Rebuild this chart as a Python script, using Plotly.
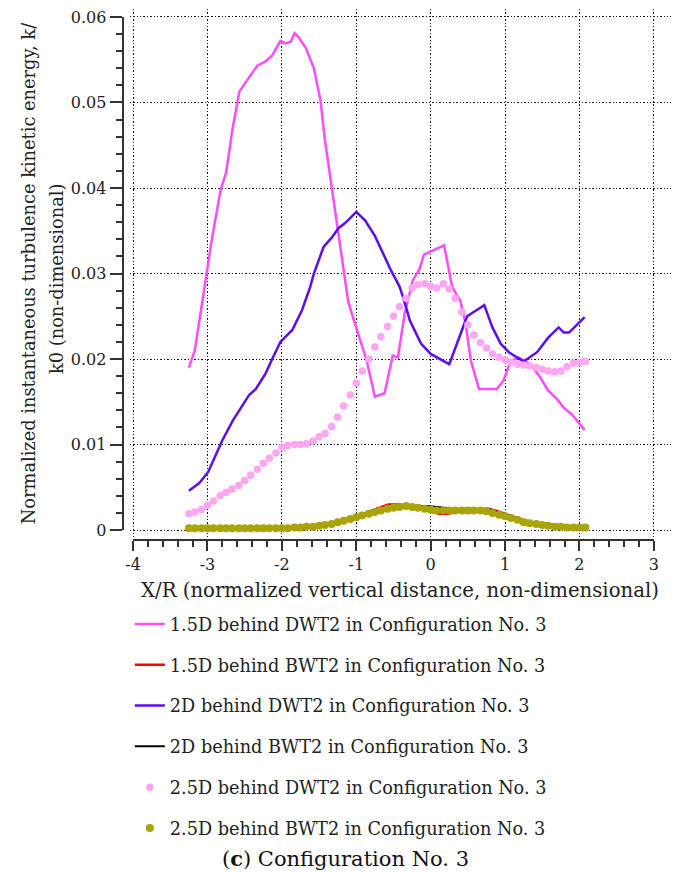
import plotly.graph_objects as go

# ---------------- data ----------------
# 1.5D behind DWT2 (solid magenta line)
x_15d_dwt2 = [-3.25, -3.17, -3.10, -3.02, -2.93, -2.82, -2.75, -2.66, -2.57, -2.46,
              -2.33, -2.22, -2.13, -2.02, -1.95, -1.88, -1.83, -1.77, -1.68, -1.57,
              -1.48, -1.42, -1.33, -1.26, -1.17, -1.11, -1.06, -0.97, -0.86, -0.75,
              -0.62, -0.51, -0.44, -0.35, -0.24, -0.15, -0.09, 0.18, 0.29, 0.40,
              0.47, 0.54, 0.65, 0.89, 0.98, 1.07, 1.18, 1.34, 1.47, 1.58,
              1.69, 1.80, 1.89, 2.07]
k_15d_dwt2 = [0.0190, 0.0210, 0.0250, 0.0298, 0.0346, 0.0399, 0.0418, 0.0471, 0.0513, 0.0527,
              0.0543, 0.0548, 0.0555, 0.0572, 0.0569, 0.0571, 0.0581, 0.0576, 0.0564, 0.0540,
              0.0502, 0.0455, 0.0401, 0.0354, 0.0300, 0.0268, 0.0253, 0.0229, 0.0198, 0.0156,
              0.0160, 0.0204, 0.0202, 0.0253, 0.0292, 0.0305, 0.0322, 0.0333, 0.0284, 0.0268,
              0.0241, 0.0198, 0.0165, 0.0165, 0.0175, 0.0197, 0.0202, 0.0194, 0.0179, 0.0163,
              0.0154, 0.0142, 0.0136, 0.0117]

# 1.5D behind BWT2 (solid red line)
x_15d_bwt2 = [-3.25, -2.50, -1.80, -1.60, -1.40, -1.20, -1.00, -0.85, -0.71, -0.57,
              -0.42, -0.26, -0.10, 0.02, 0.12, 0.23, 0.40, 0.60, 0.78, 0.90,
              1.03, 1.20, 1.38, 1.55, 1.70, 1.85, 2.07]
k_15d_bwt2 = [0.0002, 0.0002, 0.0002, 0.0004, 0.0007, 0.0010, 0.0016, 0.0021, 0.0026, 0.0030,
              0.0030, 0.0028, 0.0025, 0.0021, 0.0019, 0.0019, 0.0022, 0.0024, 0.0025, 0.0022,
              0.0018, 0.0013, 0.0009, 0.0007, 0.0006, 0.0004, 0.0003]

# 2D behind DWT2 (solid violet line)
x_2d_dwt2 = [-3.25, -3.11, -2.99, -2.88, -2.80, -2.66, -2.57, -2.44, -2.35, -2.22,
             -2.13, -2.02, -1.86, -1.73, -1.62, -1.57, -1.44, -1.33, -1.24, -1.15,
             -1.00, -0.88, -0.75, -0.62, -0.53, -0.42, -0.37, -0.28, -0.13, 0.00,
             0.18, 0.25, 0.40, 0.49, 0.63, 0.72, 0.83, 0.94, 1.05, 1.25,
             1.43, 1.58, 1.72, 1.79, 1.86, 2.07]
k_2d_dwt2 = [0.0046, 0.0055, 0.0068, 0.0089, 0.0105, 0.0128, 0.0140, 0.0158, 0.0165, 0.0183,
             0.0200, 0.0220, 0.0234, 0.0257, 0.0284, 0.0300, 0.0331, 0.0342, 0.0353, 0.0359,
             0.0372, 0.0362, 0.0344, 0.0320, 0.0303, 0.0285, 0.0272, 0.0245, 0.0218, 0.0206,
             0.0198, 0.0194, 0.0229, 0.0250, 0.0258, 0.0263, 0.0237, 0.0218, 0.0208, 0.0197,
             0.0208, 0.0225, 0.0237, 0.0231, 0.0231, 0.0249]

# 2D behind BWT2 (solid black line)
x_2d_bwt2 = [-3.25, -2.50, -1.80, -1.60, -1.40, -1.20, -0.97, -0.80, -0.57, -0.40,
             -0.31, -0.15, -0.04, 0.09, 0.30, 0.55, 0.76, 0.90, 1.03, 1.20,
             1.38, 1.55, 1.75, 2.07]
k_2d_bwt2 = [0.0002, 0.0002, 0.0002, 0.0004, 0.0006, 0.0009, 0.0015, 0.0019, 0.0026, 0.0028,
             0.0029, 0.0028, 0.0028, 0.0027, 0.0025, 0.0025, 0.0025, 0.0021, 0.0016, 0.0012,
             0.0009, 0.0006, 0.0004, 0.0003]

# 2.5D series (dotted markers), sampled on a common station list
x_25d = [-3.25, -3.17, -3.08, -3.00, -2.92, -2.83, -2.75, -2.67, -2.58, -2.50,
         -2.42, -2.33, -2.25, -2.17, -2.08, -2.00, -1.92, -1.83, -1.75, -1.67,
         -1.58, -1.50, -1.42, -1.33, -1.25, -1.17, -1.08, -1.00, -0.92, -0.83,
         -0.75, -0.67, -0.58, -0.50, -0.42, -0.33, -0.25, -0.17, -0.08, 0.00,
         0.08, 0.17, 0.25, 0.33, 0.42, 0.50, 0.58, 0.67, 0.75, 0.83,
         0.92, 1.00, 1.08, 1.17, 1.25, 1.33, 1.42, 1.50, 1.58, 1.67,
         1.75, 1.83, 1.92, 2.00, 2.08]
k_25d_dwt2 = [0.0019, 0.0021, 0.0024, 0.0029, 0.0034, 0.0040, 0.0044, 0.0048, 0.0052, 0.0058,
              0.0064, 0.0071, 0.0078, 0.0084, 0.0090, 0.0097, 0.0099, 0.0100, 0.0100, 0.0101,
              0.0104, 0.0109, 0.0113, 0.0121, 0.0132, 0.0145, 0.0158, 0.0172, 0.0186, 0.0200,
              0.0214, 0.0226, 0.0238, 0.0250, 0.0261, 0.0271, 0.0283, 0.0287, 0.0288, 0.0285,
              0.0283, 0.0288, 0.0282, 0.0271, 0.0255, 0.0240, 0.0228, 0.0219, 0.0213, 0.0206,
              0.0202, 0.0199, 0.0196, 0.0194, 0.0193, 0.0192, 0.0190, 0.0188, 0.0186, 0.0185,
              0.0186, 0.0191, 0.0195, 0.0196, 0.0197]
k_25d_bwt2 = [0.0002, 0.0002, 0.0002, 0.0002, 0.0002, 0.0002, 0.0002, 0.0002, 0.0002, 0.0002,
              0.0002, 0.0002, 0.0002, 0.0002, 0.0002, 0.0002, 0.0002, 0.0003, 0.0003, 0.0004,
              0.0004, 0.0005, 0.0006, 0.0007, 0.0009, 0.0011, 0.0013, 0.0015, 0.0017, 0.0019,
              0.0021, 0.0023, 0.0025, 0.0026, 0.0027, 0.0028, 0.0027, 0.0026, 0.0025, 0.0024,
              0.0023, 0.0023, 0.0023, 0.0023, 0.0023, 0.0023, 0.0023, 0.0023, 0.0022, 0.0020,
              0.0018, 0.0016, 0.0014, 0.0012, 0.0009, 0.0008, 0.0007, 0.0006, 0.0005, 0.0004,
              0.0004, 0.0003, 0.0003, 0.0003, 0.0003]

series_names = [
    "1.5D behind DWT2 in Configuration No. 3",
    "1.5D behind BWT2 in Configuration No. 3",
    "2D behind DWT2 in Configuration No. 3",
    "2D behind BWT2 in Configuration No. 3",
    "2.5D behind DWT2 in Configuration No. 3",
    "2.5D behind BWT2 in Configuration No. 3",
]

x_tick_values = [-4, -3, -2, -1, 0, 1, 2, 3]
x_tick_labels = ["-4", "-3", "-2", "-1", "0", "1", "2", "3"]
y_tick_values = [0, 0.01, 0.02, 0.03, 0.04, 0.05, 0.06]
y_tick_labels = ["0", "0.01", "0.02", "0.03", "0.04", "0.05", "0.06"]

x_title = "X/R (normalized vertical distance, non-dimensional)"
y_title_lines = ["Normalized instantaneous turbulence kinetic energy, k/",
                 "k0 (non-dimensional)"]
caption = "(<b>c</b>) Configuration No. 3"

# ---------------- layout geometry (pixels) ----------------
W, H = 676, 874
ML, MR, MT, MB = 110, 0, 8, 314
PW, PH = W - ML - MR, H - MT - MB

FONT = "DejaVu Serif"
TEXT = "#222222"
AXIS = "#333333"


def paper_x(px):
    return (px - ML) / PW


def paper_y(py):
    return (H - MB - py) / PH


# axis anchors: x=-4 / x=3 and k=0 / k=0.06 positions
X_A, X_B = 133.3, 658.7
Y_A, Y_B = 530.0, 16.0
# dotted grid box
G_L, G_R, G_T, G_B = 130.0, 676.0, 8.0, 537.0

sx = (X_B - X_A) / 7.0
sy = (Y_A - Y_B) / 0.06
grid_xrange = [-4 - (X_A - G_L) / sx, 3 + (G_R - X_B) / sx]
grid_yrange = [-(G_B - Y_A) / sy, 0.06 + (Y_B - G_T) / sy]

fig = go.Figure()

# empty trace that carries the offset axis frame (drawn first, underneath)
fig.add_trace(go.Scatter(x=[None], y=[None], xaxis="x2", yaxis="y2",
                         showlegend=False, hoverinfo="skip"))

fig.add_trace(go.Scatter(x=x_15d_dwt2, y=k_15d_dwt2, mode="lines", name=series_names[0],
                         line=dict(color="#ff4cff", width=2.5), legendgroup="a"))
fig.add_trace(go.Scatter(x=x_15d_bwt2, y=k_15d_bwt2, mode="lines", name=series_names[1],
                         line=dict(color="#ff0000", width=2.5), legendgroup="b"))
fig.add_trace(go.Scatter(x=x_2d_dwt2, y=k_2d_dwt2, mode="lines", name=series_names[2],
                         line=dict(color="#5c0cf2", width=2.5), legendgroup="c"))
fig.add_trace(go.Scatter(x=x_2d_bwt2, y=k_2d_bwt2, mode="lines", name=series_names[3],
                         line=dict(color="#000000", width=2), legendgroup="d"))
fig.add_trace(go.Scatter(x=x_25d, y=k_25d_dwt2, mode="markers", name=series_names[4],
                         marker=dict(color="#ffa6f2", size=7.5), legendgroup="e"))
fig.add_trace(go.Scatter(x=x_25d, y=k_25d_bwt2, mode="markers", name=series_names[5],
                         marker=dict(color="#a8a40a", size=8), legendgroup="f"))

grid_style = dict(showgrid=True, gridcolor="#1a1a1a", gridwidth=1.4, griddash="1.4px,2px",
                  zeroline=False, showline=False, showticklabels=False, ticks="")

fig.update_layout(
    width=W, height=H,
    margin=dict(l=ML, r=MR, t=MT, b=MB, pad=0),
    paper_bgcolor="white", plot_bgcolor="rgba(0,0,0,0)",
    font=dict(family=FONT, color=TEXT, size=16),
    xaxis=dict(domain=[paper_x(G_L), 1], range=grid_xrange, dtick=1, tick0=0, **grid_style),
    yaxis=dict(domain=[paper_y(G_B), 1], range=grid_yrange, dtick=0.01, tick0=0, **grid_style),
    xaxis2=dict(domain=[paper_x(X_A), paper_x(X_B)], range=[-4, 3], anchor="free",
                position=paper_y(540), showgrid=False, zeroline=False,
                showline=True, linecolor=AXIS, linewidth=2,
                tickmode="array", tickvals=x_tick_values, ticktext=x_tick_labels,
                ticks="outside", ticklen=10, tickwidth=2, tickcolor=AXIS,
                minor=dict(dtick=0.2, tick0=0, ticklen=6, tickwidth=1.5, tickcolor=AXIS,
                           ticks="outside", showgrid=False),
                tickfont=dict(family=FONT, size=16, color=TEXT)),
    yaxis2=dict(domain=[paper_y(Y_A), paper_y(Y_B)], range=[0, 0.06], anchor="free",
                position=paper_x(122.7), showgrid=False, zeroline=False,
                showline=True, linecolor=AXIS, linewidth=2,
                tickmode="array", tickvals=y_tick_values, ticktext=y_tick_labels,
                ticks="outside", ticklen=12, tickwidth=2, tickcolor=AXIS,
                minor=dict(dtick=0.002, tick0=0, ticklen=6, tickwidth=1.5, tickcolor=AXIS,
                           ticks="outside", showgrid=False),
                tickfont=dict(family=FONT, size=16, color=TEXT)),
    legend=dict(x=paper_x(130), xanchor="left", y=paper_y(606), yanchor="top",
                font=dict(family=FONT, size=17.7, color=TEXT),
                bgcolor="rgba(0,0,0,0)", tracegroupgap=14.8, traceorder="grouped"),
    showlegend=True,
)

annotations = [
    dict(text=x_title, x=paper_x(403), y=paper_y(591), xref="paper", yref="paper",
         xanchor="center", yanchor="middle", showarrow=False,
         font=dict(family=FONT, size=19.7, color=TEXT)),
    dict(text=y_title_lines[0], x=paper_x(28), y=paper_y(273), xref="paper", yref="paper",
         xanchor="center", yanchor="middle", textangle=-90, showarrow=False,
         font=dict(family=FONT, size=17.8, color=TEXT)),
    dict(text=y_title_lines[1], x=paper_x(56), y=paper_y(278), xref="paper", yref="paper",
         xanchor="center", yanchor="middle", textangle=-90, showarrow=False,
         font=dict(family=FONT, size=17.8, color=TEXT)),
    dict(text=caption, x=paper_x(348), y=paper_y(859), xref="paper", yref="paper",
         xanchor="center", yanchor="middle", showarrow=False,
         font=dict(family=FONT, size=21, color="#111111")),
]
fig.update_layout(annotations=annotations)

fig.write_html("out.html")
